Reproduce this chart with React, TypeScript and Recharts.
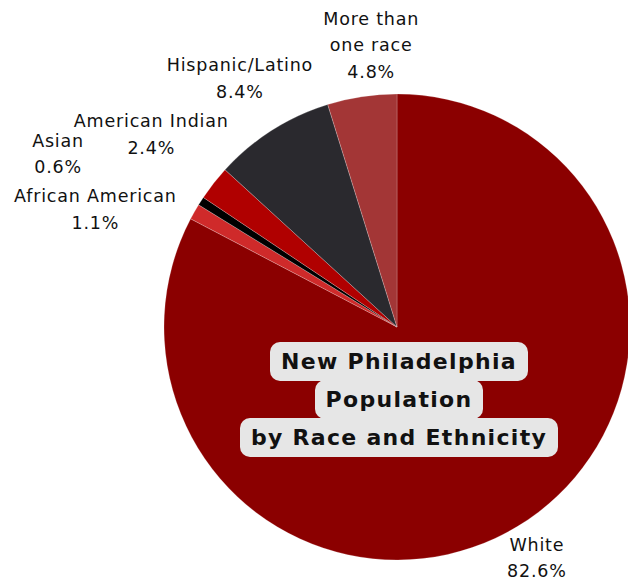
import { PieChart, Pie, Cell } from "recharts";

document.body.style.margin = "0";

const groups = ["White", "African American", "Asian", "American Indian", "Hispanic/Latino", "More than one race"];
const shares = [82.6, 1.1, 0.6, 2.4, 8.4, 4.8];
const nameLines = [["White"], ["African American"], ["Asian"], ["American Indian"], ["Hispanic/Latino"], ["More than", "one race"]];

const COLORS = ["#8b0000", "#cf2a2a", "#000000", "#b00000", "#2a292e", "#a33636"];
// nudges from the default label spot (mid angle, outer radius + 45)
const NUDGE: [number, number][] = [[-4, -7], [-60, 20], [-105, -23], [-27, -21], [-8, -14], [16, -7]];

const data = groups.map((name, i) => ({ name, value: shares[i] }));

const RAD = Math.PI / 180;
const FONT = "'DejaVu Sans', sans-serif";

function renderLabel(props: any) {
  const { cx, cy, midAngle, outerRadius, index, value } = props;
  const r = outerRadius + 45;
  const [dx, dy] = NUDGE[index];
  const x = cx + r * Math.cos(-midAngle * RAD) + dx;
  const y = cy + r * Math.sin(-midAngle * RAD) + dy;
  const lines = [...nameLines[index], `${value}%`];
  const lh = 26.5;
  const top = y - ((lines.length - 1) * lh) / 2;
  return (
    <text key={`lbl-${index}`} x={x} y={top} textAnchor="middle" dominantBaseline="central" fontFamily={FONT} fontSize={17.5} letterSpacing={0.8} fill="#111">
      {lines.map((t, k) => (
        <tspan key={k} x={x} y={top + k * lh}>
          {t}
        </tspan>
      ))}
    </text>
  );
}

const titleLines = ["New Philadelphia", "Population", "by Race and Ethnicity"];

export default function App() {
  return (
    <div style={{ position: "relative", width: 628, height: 582, background: "#fff" }}>
      <PieChart width={628} height={582}>
        <Pie
          data={data}
          dataKey="value"
          nameKey="name"
          cx={392}
          cy={322}
          outerRadius={233}
          startAngle={90}
          endAngle={-270}
          stroke="#ffffff"
          strokeWidth={0.6}
          strokeOpacity={0.35}
          label={renderLabel}
          labelLine={false}
          isAnimationActive={false}
        >
          {data.map((d, i) => (
            <Cell key={d.name} fill={COLORS[i]} />
          ))}
        </Pie>
      </PieChart>
      <div
        style={{
          position: "absolute",
          left: 209,
          top: 342,
          width: 380,
          textAlign: "center",
          fontFamily: FONT,
          fontWeight: 700,
          fontSize: 22,
          letterSpacing: 1.3,
          color: "#111",
        }}
      >
        {titleLines.map((t) => (
          <div key={t} style={{ height: 38 }}>
            <span
              style={{
                display: "inline-block",
                background: "#e6e6e6",
                borderRadius: 10,
                padding: "0 11px",
                lineHeight: "39px",
              }}
            >
              {t}
            </span>
          </div>
        ))}
      </div>
    </div>
  );
}
